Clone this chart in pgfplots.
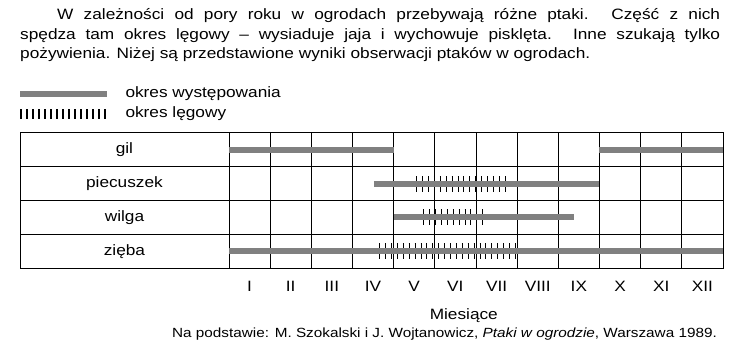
\documentclass[border=0pt]{standalone}
\usepackage{fontspec}
\setmainfont{Liberation Sans}
\usepackage{graphicx}
\usepackage{pgfplots}
\pgfplotsset{compat=1.18}
\definecolor{bargray}{RGB}{128,128,128}
\newcommand{\sx}[1]{\scalebox{1.15}[1]{#1}}
\begin{document}
\begin{tikzpicture}
\useasboundingbox (0bp,0bp) rectangle (753bp,-355bp);
\tikzset{hdr/.style={anchor=base west, inner sep=0pt, font=\fontsize{15bp}{20bp}\selectfont}}
\node[hdr] at (57bp,-19bp) {\sx{\makebox[576.5bp][s]{W zależności od pory roku w ogrodach przebywają różne ptaki. Część z nich}}};
\node[hdr] at (20bp,-39bp) {\sx{\makebox[608.7bp][s]{spędza tam okres lęgowy – wysiaduje jaja i wychowuje pisklęta. Inne szukają tylko}}};
\node[hdr] at (20bp,-58bp) {\sx{pożywienia. Niżej są przedstawione wyniki obserwacji ptaków w ogrodach.}};
\begin{axis}[
  at={(20bp,-268.3bp)}, anchor=south west,
  scale only axis, width=703bp, height=135.6bp,
  xmin=-5.074, xmax=12, ymin=0.5, ymax=4.5, y dir=reverse,
  axis line style={black, line width=0.8bp},
  xtick={0.5,1.5,2.5,3.5,4.5,5.5,6.5,7.5,8.5,9.5,10.5,11.5},
  xticklabels={\sx{I},\sx{II},\sx{III},\sx{IV},\sx{V},\sx{VI},\sx{VII},\sx{VIII},\sx{IX},\sx{X},\sx{XI},\sx{XII}},
  minor xtick={0,1,2,3,4,5,6,7,8,9,10,11,12},
  xminorgrids=true,
  minor grid style={black, line width=0.8bp},
  ytick={1.5,2.5,3.5}, yticklabels={},
  ymajorgrids=true,
  major grid style={black, line width=0.8bp},
  major tick length=0pt, minor tick length=0pt,
  xticklabel style={font=\fontsize{15bp}{18bp}\selectfont, yshift=-9bp},
  clip=false,
  legend style={at={(axis description cs:0,1)}, anchor=south west, yshift=11bp, xshift=-5bp,
    draw=none, fill=none, inner sep=0pt, outer sep=0pt,
    font=\fontsize{15bp}{18bp}\selectfont,
    nodes={inner sep=0pt, text height=11bp, text depth=4bp},
    row sep=5bp,
    /tikz/every odd column/.style={column sep=13bp}},
  legend cell align=left,
]
\addlegendimage{legend image code/.code={\draw[bargray, line width=6bp] (0bp,0bp) -- (87bp,0bp);}}
\addlegendentry{\sx{okres występowania}}
\addlegendimage{legend image code/.code={\draw[black, line width=10.5bp, dash pattern=on 1.6bp off 4.4bp] (0bp,0bp) -- (87bp,0bp);}}
\addlegendentry{\sx{okres lęgowy}}
% breeding periods (hatching)
\addplot[forget plot, black, line width=16bp, dash pattern=on 1bp off 4.9bp] coordinates {(4.55,2) (6.74,2)};
\addplot[forget plot, black, line width=16bp, dash pattern=on 1bp off 4.9bp] coordinates {(4.72,3) (6.17,3)};
\addplot[forget plot, black, line width=16bp, dash pattern=on 1bp off 4.9bp] coordinates {(3.65,4) (6.98,4)};
% presence periods
\addplot[forget plot, bargray, line width=6bp] coordinates {(0,1) (4,1)};
\addplot[forget plot, bargray, line width=6bp] coordinates {(9,1) (12,1)};
\addplot[forget plot, bargray, line width=6bp] coordinates {(3.52,2) (9,2)};
\addplot[forget plot, bargray, line width=6bp] coordinates {(4,3) (8.37,3)};
\addplot[forget plot, bargray, line width=6bp] coordinates {(0,4) (12,4)};
% row labels
\tikzset{rowlab/.style={font=\fontsize{15bp}{18bp}\selectfont, inner sep=0pt}}
\node[rowlab] at (axis cs:-2.537,1) {\sx{gil}};
\node[rowlab] at (axis cs:-2.537,2) {\sx{piecuszek}};
\node[rowlab] at (axis cs:-2.537,3) {\sx{wilga}};
\node[rowlab] at (axis cs:-2.537,4) {\sx{zięba}};
\node[font=\fontsize{15bp}{18bp}\selectfont, inner sep=0pt] at (axis cs:5.705,4.5) [yshift=-47bp] {\sx{Miesiące}};
\end{axis}
\node[anchor=east, inner sep=0pt, font=\fontsize{13.3bp}{15bp}\selectfont] at (717bp,-334bp) {\sx{Na podstawie: M. Szokalski i J. Wojtanowicz, \textit{Ptaki w ogrodzie}, Warszawa 1989.}};
\end{tikzpicture}
\end{document}
